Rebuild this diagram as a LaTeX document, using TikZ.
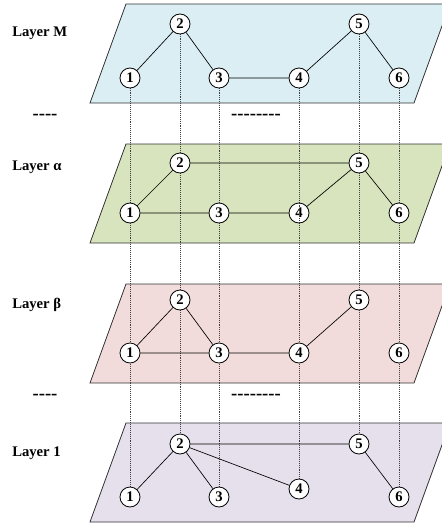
\documentclass[tikz,border=0pt]{standalone}
\usepackage{fontspec}
\setmainfont{Liberation Serif}
\usetikzlibrary{backgrounds}

\definecolor{planeM}{HTML}{DAEEF3}
\definecolor{planeA}{HTML}{D7E4BD}
\definecolor{planeB}{HTML}{F2DCDB}
\definecolor{planeO}{HTML}{E5E0EC}

\tikzset{
  vert/.style={circle, draw, fill=white, line width=0.6pt, minimum size=15pt, inner sep=0pt, font=\fontsize{11}{11}\selectfont\bfseries},
  plane/.style={draw=black!80, line width=0.6pt},
  link/.style={line width=0.5pt},
  tie/.style={densely dotted, line width=0.45pt, black!75},
  layerlabel/.style={anchor=west, inner sep=0pt, font=\fontsize{11}{13}\selectfont\bfseries},
  gap/.style={font=\fontsize{14}{14}\selectfont\bfseries}
}

\begin{document}
\begin{tikzpicture}[x=0.75pt, y=-0.75pt]

\clip (0,0) rectangle (442,525);

% layer M
\node[vert] (m1) at (130,78)  {1};
\node[vert] (m2) at (180,24)  {2};
\node[vert] (m3) at (219,78)  {3};
\node[vert] (m4) at (299,78)  {4};
\node[vert] (m5) at (359,24)  {5};
\node[vert] (m6) at (399,78)  {6};

% layer alpha
\node[vert] (a1) at (130,213) {1};
\node[vert] (a2) at (180,163) {2};
\node[vert] (a3) at (219,213) {3};
\node[vert] (a4) at (299,213) {4};
\node[vert] (a5) at (359,163) {5};
\node[vert] (a6) at (399,213) {6};

% layer beta
\node[vert] (b1) at (130,353) {1};
\node[vert] (b2) at (180,300) {2};
\node[vert] (b3) at (219,353) {3};
\node[vert] (b4) at (299,353) {4};
\node[vert] (b5) at (359,300) {5};
\node[vert] (b6) at (399,353) {6};

% layer 1
\node[vert] (o1) at (130,497) {1};
\node[vert] (o2) at (180,444) {2};
\node[vert] (o3) at (219,497) {3};
\node[vert] (o4) at (299,489) {4};
\node[vert] (o5) at (359,444) {5};
\node[vert] (o6) at (399,497) {6};

\begin{scope}[on background layer]
% planes
\filldraw[plane, fill=planeM] (126,4) -- (450,4) -- (414,103) -- (90,103) -- cycle;
\filldraw[plane, fill=planeA] (126,144) -- (450,144) -- (414,243) -- (90,243) -- cycle;
\filldraw[plane, fill=planeB] (126,284) -- (450,284) -- (414,383) -- (90,383) -- cycle;
\filldraw[plane, fill=planeO] (126,423) -- (450,423) -- (414,522) -- (90,522) -- cycle;
% ties between layers
\foreach \i in {1,...,6}
  \draw[tie] (m\i.center) -- (o\i.center);
\end{scope}
\draw[tie] (a4.north) -- (a4.south);

% intra-layer links
\draw[link] (m1) -- (m2) -- (m3) -- (m4) -- (m5) -- (m6);
\draw[link] (a1) -- (a2) -- (a5) -- (a6);
\draw[link] (a1) -- (a3) -- (a4) -- (a5);
\draw[link] (b1) -- (b2) -- (b3) -- (b1);
\draw[link] (b3) -- (b4) -- (b5);
\draw[link] (o2) -- (o1);
\draw[link] (o2) -- (o3);
\draw[link] (o2) -- (o4);
\draw[link] (o2) -- (o5) -- (o6);

% labels
\node[layerlabel] (lm) at (12,33)  {Layer M};
\node[layerlabel] (la) at (12,167) {Layer α};
\node[layerlabel] (lb) at (12,305) {Layer β};
\node[layerlabel] (lo) at (12,453) {Layer 1};

\node[gap] (g1) at (45,117)  {-{}-{}-{}-};
\node[gap] (g2) at (256,117) {-{}-{}-{}-{}-{}-{}-{}-};
\node[gap] (g3) at (45,397)  {-{}-{}-{}-};
\node[gap] (g4) at (256,397) {-{}-{}-{}-{}-{}-{}-{}-};

\end{tikzpicture}
\end{document}
